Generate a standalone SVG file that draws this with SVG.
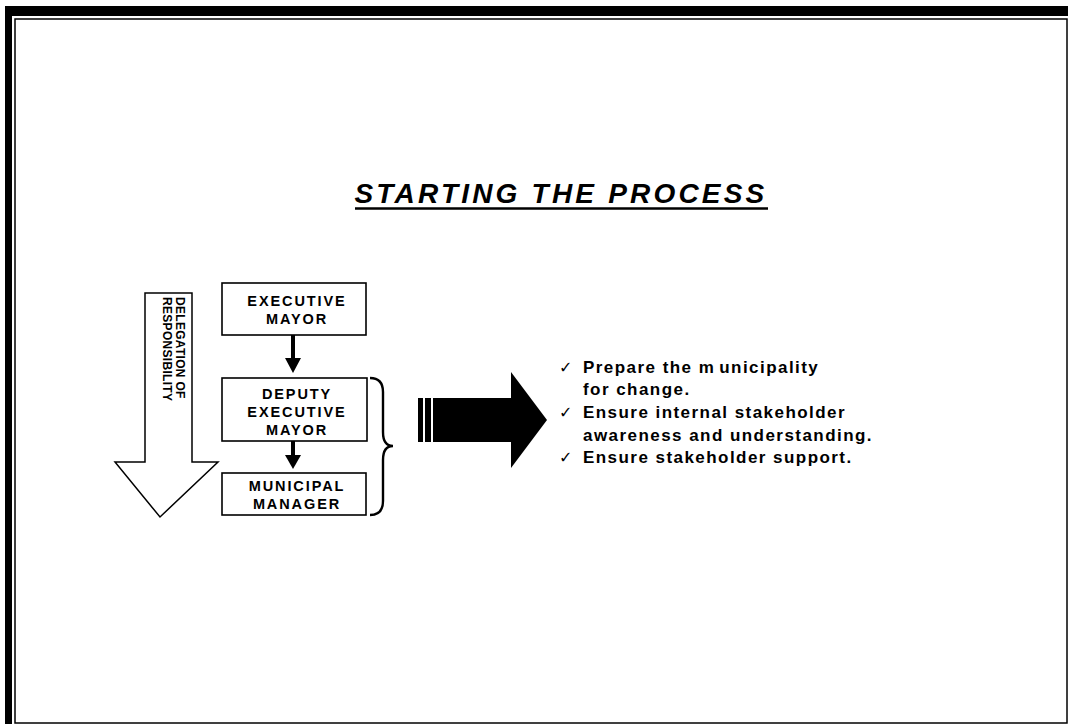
<svg xmlns="http://www.w3.org/2000/svg" width="1071" height="726" viewBox="0 0 1071 726">
  <style>
    .box { fill: #fff; stroke: #000; stroke-width: 1.6; }
    .lbl { font-family: "Liberation Sans", Arial, sans-serif; font-weight: bold; font-size: 14.5px; letter-spacing: 1.9px; text-anchor: middle; fill: #000; }
    .bul { font-family: "Liberation Sans", Arial, sans-serif; font-weight: bold; font-size: 17px; letter-spacing: 1.45px; fill: #000; }
    .chk { font-family: "DejaVu Sans", sans-serif; font-size: 16px; fill: #000; }
    .rot { font-family: "Liberation Sans", Arial, sans-serif; font-weight: bold; font-size: 12px; letter-spacing: 0.3px; fill: #000; }
    .head { fill: #000; }
  </style>
  <rect width="1071" height="726" fill="#fff"/>

  <!-- page frame -->
  <g id="frame">
    <rect x="5" y="6" width="1063" height="10" fill="#000"/>
    <rect x="5" y="6" width="7" height="718" fill="#000"/>
    <rect x="15" y="19" width="1052" height="704" fill="none" stroke="#000" stroke-width="1.5"/>
  </g>

  <!-- title -->
  <g id="title">
    <text x="561" y="203" text-anchor="middle" font-family="Liberation Sans, Arial, sans-serif" font-weight="bold" font-style="italic" font-size="28" letter-spacing="3.2">STARTING THE PROCESS</text>
    <line x1="355" y1="208.5" x2="768" y2="208.5" stroke="#000" stroke-width="2.5"/>
  </g>

  <!-- delegation arrow -->
  <g id="delegation">
    <path d="M145,293 L192,293 L192,462 L218,462 L160,517 L115,462 L145,462 Z" fill="#fff" stroke="#000" stroke-width="1.5"/>
    <g transform="translate(176,297) rotate(90)">
      <text class="rot" x="0" y="0">DELEGATION OF</text>
    </g>
    <g transform="translate(163,297) rotate(90)">
      <text class="rot" x="0" y="0">RESPONSIBILITY</text>
    </g>
  </g>

  <!-- hierarchy boxes -->
  <g id="executive-mayor">
    <rect class="box" x="222" y="283" width="144" height="52"/>
    <text class="lbl" x="297" y="306">EXECUTIVE</text>
    <text class="lbl" x="297" y="324">MAYOR</text>
  </g>
  <g id="deputy-executive-mayor">
    <rect class="box" x="222" y="378" width="145" height="63"/>
    <text class="lbl" x="297" y="399">DEPUTY</text>
    <text class="lbl" x="297" y="417">EXECUTIVE</text>
    <text class="lbl" x="297" y="435">MAYOR</text>
  </g>
  <g id="municipal-manager">
    <rect class="box" x="222" y="473" width="144" height="42"/>
    <text class="lbl" x="297" y="491">MUNICIPAL</text>
    <text class="lbl" x="297" y="509">MANAGER</text>
  </g>

  <!-- connectors -->
  <g id="connectors">
    <line x1="293" y1="335" x2="293" y2="360" stroke="#000" stroke-width="4"/>
    <polygon class="head" points="285,358 301,358 293,373"/>
    <line x1="293" y1="441" x2="293" y2="456" stroke="#000" stroke-width="4"/>
    <polygon class="head" points="285,455 301,455 293,469"/>
    <path d="M370,378 Q383,378 383,392 L383,432 Q383,446 393,446 Q383,446 383,460 L383,501 Q383,515 370,515" fill="none" stroke="#000" stroke-width="2.4"/>
  </g>

  <!-- block arrow -->
  <g id="big-arrow" fill="#000">
    <rect x="418" y="398" width="5" height="44"/>
    <rect x="425" y="398" width="6" height="44"/>
    <path d="M433,398 L511,398 L511,372 L547,420 L511,468 L511,442 L433,442 Z"/>
  </g>

  <!-- outcomes -->
  <g id="outcomes">
    <text class="chk" x="559" y="373">✓</text>
    <text class="bul" x="583" y="373">Prepare the m<tspan dx="4">unicipality</tspan></text>
    <text class="bul" x="583" y="395">for change.</text>
    <text class="chk" x="559" y="418">✓</text>
    <text class="bul" x="583" y="418">Ensure internal stakeholder</text>
    <text class="bul" x="583" y="441">awareness and understanding.</text>
    <text class="chk" x="559" y="463">✓</text>
    <text class="bul" x="583" y="463">Ensure stakeholder support.</text>
  </g>
</svg>
